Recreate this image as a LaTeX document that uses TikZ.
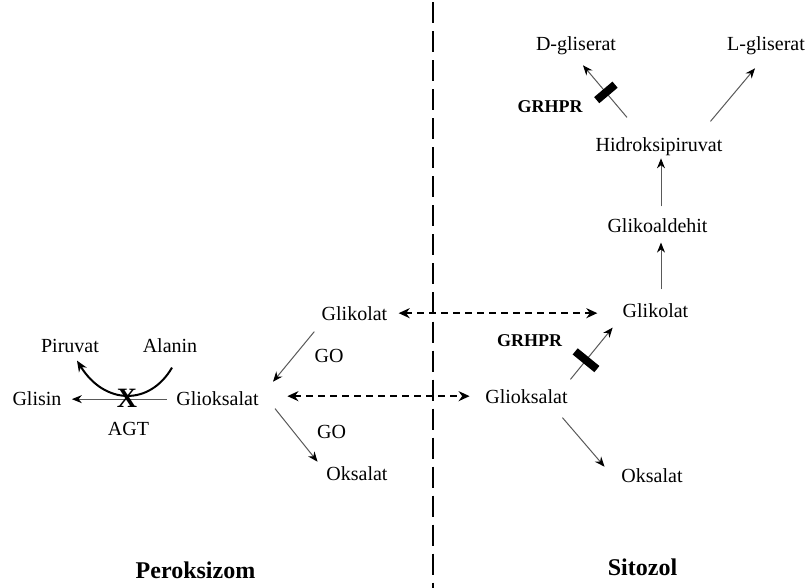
\documentclass[tikz,border=0pt]{standalone}
\usepackage{fontspec}
\setmainfont{Liberation Serif}
\usetikzlibrary{arrows.meta,calc}
\begin{document}
\begin{tikzpicture}[x=0.5pt,y=-0.5pt,
  txt/.style={inner sep=0pt,anchor=base,font=\fontsize{10}{12}\selectfont},
  lbl/.style={inner sep=0pt,anchor=base,font=\fontsize{12}{14}\selectfont\bfseries},
  enz/.style={inner sep=0pt,anchor=base,font=\fontsize{9}{11}\selectfont\bfseries},
  thinarr/.style={draw=black!65,line width=0.5pt,-{Stealth[length=5pt,width=4pt,color=black]}},
  dasharr/.style={draw=black,line width=0.9pt,dash pattern=on 3.5pt off 2.5pt,
    {Stealth[length=5.5pt,width=5pt]}-{Stealth[length=5.5pt,width=5pt]}},
  blk/.style={fill=black,draw=none,inner sep=0pt,minimum width=4pt,minimum height=14pt,sloped},
  curvearr/.style={draw=black,line width=1pt,-{Stealth[length=5.5pt,width=4.5pt]}},
  divider/.style={draw=black,line width=1.35pt,dash pattern=on 10.5pt off 4pt}
]
\fill[white] (0,0) rectangle (808,588);
\useasboundingbox (0,0) rectangle (808,588);

% divider
\coordinate (dtop) at (433,2.5);
\coordinate (dbot) at (433,588);
\draw[divider] (dtop) -- (dbot);

% nodes
\node[txt] (glkL) at (354.5,320) {Glikolat};
\node[txt] (gloL) at (217.5,405) {Glioksalat};
\node[txt] (okL) at (357,480) {Oksalat};
\node[txt] (glkR) at (655.5,317) {Glikolat};
\node[txt] (gloR) at (526.5,403) {Glioksalat};
\node[txt] (okR) at (652,482) {Oksalat};
\node[txt] (gka) at (657.5,233) {Glikoaldehit};
\node[txt] (hid) at (659,152) {Hidroksipiruvat};
\node[txt] (dgl) at (576,51) {D-gliserat};
\node[txt] (lgl) at (766,51) {L-gliserat};
\node[txt] (piru) at (70,352) {Piruvat};
\node[txt] (alan) at (170,352) {Alanin};
\node[txt] (glis) at (37,405) {Glisin};
\node[txt] (agt) at (128.5,435) {AGT};
\node[txt] (go1) at (329,362) {GO};
\node[txt] (go2) at (331.5,438) {GO};
\node[enz] (gr1) at (550,113) {GRHPR};
\node[enz] (gr2) at (529.5,346) {GRHPR};
\node[lbl] (per) at (195.5,578) {Peroksizom};
\node[lbl] (sit) at (642.5,575) {Sitozol};

% left side
\draw[thinarr] ($(gloL.west)+(-9,1)$) -- ($(glis.east)+(10,1)$);
\draw[curvearr] ($(alan.south)+(2,15)$) .. controls +(-22,38) and +(28,45) .. ($(piru.south)+(7,8)$);
\node[inner sep=0pt,font=\fontsize{14}{16}\selectfont\bfseries] (xmark) at (127,398) {X};

\draw[thinarr] ($(glkL.south west)+(-7,11)$) -- ($(gloL.north east)+(14,-9)$);
\draw[thinarr] ($(gloL.south east)+(16,3)$) -- ($(okL.north west)+(-8.5,-4)$);

% transport
\draw[dasharr] ($(glkL.east)+(11,0)$) -- ($(glkL.east -| glkR.west)+(-25,0)$);
\draw[dasharr] ($(gloL.east |- gloR.west)+(28.4,0)$) -- ($(gloR.west)+(-15.4,0)$);

% right side
\draw[thinarr] ($(gloR.north east)+(2.4,-9.3)$) -- node[blk,pos=0.37] (b2) {} ($(glkR.south west)+(-9.7,10)$);
\draw[thinarr] ($(gloR.south east)+(-5.6,14)$) -- ($(okR.north west)+(-16.5,-1)$);
\draw[thinarr] ($(glkR.north)+(5.5,-13.3)$) -- ($(gka.south)+(3.5,9)$);
\draw[thinarr] ($(gka.north)+(3.5,-12.3)$) -- ($(hid.south)+(2,1.7)$);
\draw[thinarr] ($(hid.north)+(-32,-20.3)$) -- node[blk,pos=0.48,minimum height=12pt] (b1) {} ($(dgl.south)+(7,9.6)$);
\draw[thinarr] ($(hid.north east)+(-12.3,-16.3)$) -- ($(lgl.south)+(-11,12.6)$);
\end{tikzpicture}
\end{document}
